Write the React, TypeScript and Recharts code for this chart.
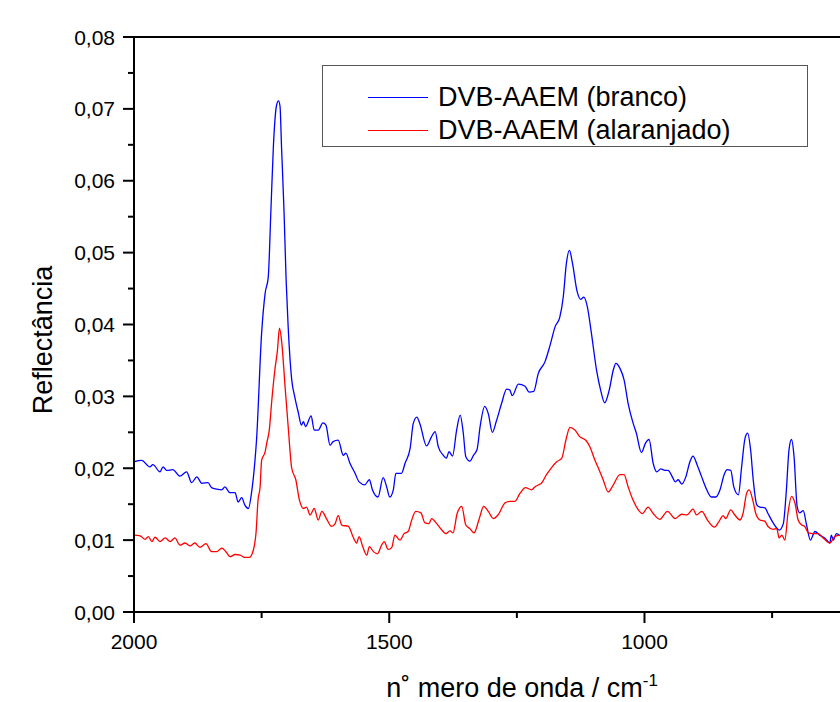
import { LineChart, Line, XAxis, YAxis, ReferenceLine, Legend, Label } from "recharts";

// wavenumbers (cm-1) and reflectance
const wavenumberBranco = [
  2000, 1985, 1969, 1963, 1949, 1943, 1936, 1924, 1910, 1897,
  1887, 1877, 1867, 1855, 1848, 1838, 1828, 1822, 1812, 1802,
  1796, 1789, 1783, 1776, 1769, 1763, 1760, 1750, 1743, 1737,
  1732, 1727, 1721, 1717, 1714, 1711, 1706, 1702, 1698, 1691,
  1685, 1678, 1672, 1668, 1664, 1653, 1647, 1639, 1630, 1624,
  1616, 1610, 1600, 1590, 1585, 1577, 1567, 1559, 1548, 1539,
  1533, 1522, 1512, 1505, 1499, 1492, 1487, 1476, 1469, 1459,
  1453, 1446, 1440, 1427, 1417, 1410, 1404, 1394, 1388, 1383,
  1376, 1368, 1361, 1355, 1350, 1342, 1335, 1328, 1322, 1313,
  1306, 1298, 1290, 1280, 1270, 1264, 1259, 1247, 1234, 1226,
  1217, 1208, 1195, 1185, 1175, 1166, 1159, 1153, 1147, 1141,
  1132, 1125, 1119, 1112, 1104, 1094, 1086, 1078, 1069, 1061,
  1056, 1048, 1040, 1032, 1022, 1016, 1006, 998, 991, 983,
  976, 968, 960, 954, 944, 940, 934, 927, 919, 911,
  905, 897, 888, 878, 869, 860, 852, 844, 838, 831,
  825, 816, 810, 803, 798, 792, 787, 780, 774, 764,
  758, 748, 736, 728, 722, 717, 712, 707, 701, 696,
  689, 683, 675, 666, 657, 647, 637, 634, 630, 624,
  617,
];
const reflectanceBranco = [
  0.0209, 0.0211, 0.0202, 0.0205, 0.0195, 0.0202, 0.0197, 0.0198, 0.0189, 0.0195,
  0.018, 0.0188, 0.0179, 0.018, 0.0173, 0.0171, 0.017, 0.0174, 0.0166, 0.0166,
  0.0153, 0.0159, 0.0149, 0.0144, 0.017, 0.0211, 0.0239, 0.0388, 0.0444, 0.0466,
  0.0555, 0.0647, 0.0704, 0.0711, 0.0704, 0.0647, 0.0555, 0.0462, 0.0397, 0.0323,
  0.0299, 0.0277, 0.026, 0.0265, 0.0258, 0.0273, 0.0253, 0.0253, 0.0263, 0.026,
  0.0232, 0.0237, 0.0239, 0.0218, 0.0221, 0.0207, 0.0193, 0.0181, 0.0177, 0.0184,
  0.017, 0.016, 0.0187, 0.0174, 0.016, 0.017, 0.0193, 0.0193, 0.0207, 0.0228,
  0.0262, 0.0271, 0.0262, 0.0231, 0.0244, 0.0251, 0.023, 0.0218, 0.0214, 0.0223,
  0.0217, 0.0253, 0.0274, 0.0249, 0.0216, 0.021, 0.0218, 0.0226, 0.0258, 0.0286,
  0.0276, 0.025, 0.0266, 0.029, 0.031, 0.0309, 0.0301, 0.0317, 0.0314, 0.0306,
  0.0307, 0.0332, 0.0348, 0.0371, 0.0397, 0.041, 0.0439, 0.0485, 0.0503, 0.0485,
  0.0446, 0.0435, 0.0438, 0.0425, 0.0388, 0.0337, 0.0309, 0.0291, 0.0309, 0.0337,
  0.0346, 0.0339, 0.0323, 0.029, 0.0262, 0.0249, 0.0222, 0.0235, 0.024, 0.0207,
  0.0195, 0.0199, 0.0197, 0.0197, 0.0186, 0.0181, 0.0184, 0.0178, 0.0188, 0.0209,
  0.0217, 0.0205, 0.0188, 0.017, 0.016, 0.016, 0.017, 0.0191, 0.0198, 0.0197,
  0.0174, 0.0163, 0.02, 0.0242, 0.0249, 0.0225, 0.0184, 0.0149, 0.0146, 0.0145,
  0.0137, 0.0124, 0.0114, 0.0123, 0.017, 0.0225, 0.024, 0.0216, 0.0147, 0.0138,
  0.0141, 0.0123, 0.01, 0.0112, 0.0107, 0.0103, 0.0096, 0.0107, 0.01, 0.0109,
  0.0106,
];

const wavenumberAlaranjado = [
  2000, 1988, 1978, 1972, 1965, 1959, 1949, 1939, 1929, 1920,
  1910, 1900, 1890, 1881, 1871, 1859, 1848, 1838, 1828, 1818,
  1812, 1802, 1792, 1783, 1774, 1768, 1761, 1757, 1753, 1750,
  1743, 1740, 1735, 1730, 1724, 1719, 1715, 1711, 1704, 1698,
  1691, 1683, 1676, 1668, 1662, 1655, 1647, 1639, 1632, 1623,
  1613, 1606, 1600, 1593, 1580, 1570, 1564, 1559, 1552, 1544,
  1539, 1531, 1523, 1515, 1510, 1502, 1495, 1489, 1479, 1471,
  1463, 1456, 1448, 1438, 1430, 1422, 1417, 1407, 1397, 1389,
  1381, 1375, 1367, 1358, 1350, 1342, 1334, 1324, 1315, 1306,
  1296, 1287, 1273, 1264, 1254, 1244, 1233, 1221, 1215, 1207,
  1202, 1192, 1182, 1172, 1162, 1154, 1146, 1136, 1127, 1115,
  1107, 1097, 1089, 1081, 1071, 1061, 1048, 1040, 1032, 1022,
  1012, 1004, 993, 983, 970, 955, 940, 927, 917, 905,
  898, 888, 875, 863, 854, 846, 841, 831, 823, 813,
  807, 800, 795, 788, 782, 774, 764, 758, 748, 741,
  736, 731, 725, 719, 712, 705, 699, 692, 686, 679,
  670, 660, 650, 637, 627, 617,
];
const reflectanceAlaranjado = [
  0.0107, 0.0106, 0.0101, 0.0105, 0.0098, 0.0104, 0.0098, 0.0103, 0.0098, 0.0103,
  0.0093, 0.0096, 0.0092, 0.0096, 0.009, 0.0095, 0.0084, 0.0084, 0.0089, 0.0082,
  0.0077, 0.008, 0.0079, 0.0076, 0.0076, 0.0082, 0.011, 0.0156, 0.0174, 0.0211,
  0.0223, 0.0235, 0.0253, 0.0295, 0.0337, 0.0364, 0.0395, 0.0378, 0.0313, 0.0258,
  0.02, 0.0184, 0.0156, 0.0144, 0.0146, 0.0135, 0.0144, 0.0128, 0.014, 0.013,
  0.0119, 0.0123, 0.0134, 0.0121, 0.0119, 0.0103, 0.0096, 0.0105, 0.0091, 0.0079,
  0.0091, 0.0084, 0.0081, 0.0093, 0.0098, 0.0087, 0.009, 0.0107, 0.01, 0.0109,
  0.0112, 0.0128, 0.014, 0.0138, 0.0124, 0.0123, 0.013, 0.0123, 0.0114, 0.0109,
  0.0113, 0.011, 0.0137, 0.0147, 0.0121, 0.0116, 0.011, 0.0129, 0.0147, 0.014,
  0.013, 0.0135, 0.0152, 0.0154, 0.0154, 0.0165, 0.0173, 0.017, 0.0174, 0.0177,
  0.0179, 0.0191, 0.0201, 0.0209, 0.0214, 0.0239, 0.0257, 0.0253, 0.0244, 0.0239,
  0.023, 0.0211, 0.0198, 0.0184, 0.0167, 0.0177, 0.0191, 0.0191, 0.0174, 0.0155,
  0.0142, 0.0137, 0.0146, 0.0137, 0.0129, 0.014, 0.013, 0.0136, 0.0135, 0.0143,
  0.0135, 0.014, 0.0126, 0.0118, 0.0126, 0.0134, 0.013, 0.0142, 0.0135, 0.0128,
  0.0137, 0.0165, 0.017, 0.0156, 0.0137, 0.0128, 0.0126, 0.0119, 0.0115, 0.0116,
  0.0103, 0.0107, 0.01, 0.0137, 0.0161, 0.0151, 0.0128, 0.0121, 0.0119, 0.011,
  0.0109, 0.0109, 0.0103, 0.0096, 0.0105, 0.0107,
];

const seriesNames = ["DVB-AAEM (branco)", "DVB-AAEM (alaranjado)"];
const seriesColors = ["#0000ff", "#ff0000"];

const xTicks = [2000, 1750, 1500, 1250, 1000, 750];
const xLabelled = [2000, 1500, 1000];
const yTicks = [
  0, 0.005, 0.01, 0.015, 0.02, 0.025, 0.03, 0.035, 0.04,
  0.045, 0.05, 0.055, 0.06, 0.065, 0.07, 0.075, 0.08,
];

const brancoData = wavenumberBranco.map((wn, i) => ({ wn, r: reflectanceBranco[i] }));
const alaranjadoData = wavenumberAlaranjado.map((wn, i) => ({ wn, r: reflectanceAlaranjado[i] }));

const FONT = "'Liberation Sans', Arial, sans-serif";

const XTick = ({ x, y, payload }: any) => {
  const major = xLabelled.includes(payload.value);
  return (
    <g>
      <line x1={x} x2={x} y1={y} y2={y + (major ? 11 : 6)} stroke="#000" strokeWidth={2} />
      {major && (
        <text x={x} y={y + 37} textAnchor="middle" fontSize={21} fontFamily={FONT} fill="#000">
          {payload.value}
        </text>
      )}
    </g>
  );
};

const YTick = ({ x, y, payload }: any) => {
  const v = payload.value * 100;
  const major = Math.abs(v - Math.round(v)) < 1e-6;
  return (
    <g>
      <line x1={x - (major ? 11 : 6)} x2={x} y1={y} y2={y} stroke="#000" strokeWidth={2} />
      {major && (
        <text x={x - 19} y={y} dy="0.36em" textAnchor="end" fontSize={21} fontFamily={FONT} fill="#000">
          {payload.value.toFixed(2).replace(".", ",")}
        </text>
      )}
    </g>
  );
};

// legend drawn in the same order as the series
const LegendBox = () => (
  <div
    style={{
      position: "relative",
      width: 486,
      height: 82,
      boxSizing: "border-box",
      border: "1.5px solid #555",
      background: "#fff",
      fontFamily: FONT,
      fontSize: 27,
    }}
  >
    {seriesNames.map((name, i) => (
      <div
        key={name}
        style={{ position: "absolute", left: 0, top: 15 + i * 33, height: 33, lineHeight: "33px", whiteSpace: "nowrap" }}
      >
        <span
          style={{
            position: "absolute",
            left: 45,
            top: 16,
            width: 60,
            height: 0,
            borderTop: `1.3px solid ${seriesColors[i]}`,
          }}
        />
        <span style={{ position: "absolute", left: 115, top: 0, color: "#000" }}>{name}</span>
      </div>
    ))}
  </div>
);

export default function App() {
  return (
    <div style={{ position: "fixed", left: 0, top: 0, width: 840, height: 702, overflow: "hidden", background: "#fff" }}>
      <LineChart width={840} height={702} margin={{ top: 37, right: 0, bottom: 0, left: 0 }}>
        <XAxis
          dataKey="wn"
          type="number"
          domain={[617, 2000]}
          reversed
          allowDataOverflow
          ticks={xTicks}
          interval={0}
          height={90}
          tickSize={0}
          tickMargin={0}
          tickLine={false}
          tick={<XTick />}
          axisLine={{ stroke: "#000", strokeWidth: 2 }}
        >
          <Label
            content={() => (
              <text x={522} y={697} textAnchor="middle" fontSize={27} fontFamily={FONT} fill="#000">
                n˚ mero de onda / cm
                <tspan fontSize={17} dy={-11}>-1</tspan>
              </text>
            )}
          />
        </XAxis>
        <YAxis
          type="number"
          domain={[0, 0.08]}
          ticks={yTicks}
          interval={0}
          width={134}
          tickSize={0}
          tickMargin={0}
          tickLine={false}
          tick={<YTick />}
          axisLine={{ stroke: "#000", strokeWidth: 2 }}
        >
          <Label
            content={() => (
              <text
                x={52}
                y={340}
                transform="rotate(-90 52 340)"
                textAnchor="middle"
                fontSize={27}
                fontFamily={FONT}
                fill="#000"
              >
                Reflectância
              </text>
            )}
          />
        </YAxis>
        <ReferenceLine y={0.08} stroke="#000" strokeWidth={2} />
        <Legend
          layout="vertical"
          align="center"
          verticalAlign="middle"
          wrapperStyle={{ left: 322, top: 65, width: 486, height: 82 }}
          content={<LegendBox />}
        />
        <Line
          data={brancoData}
          dataKey="r"
          name={seriesNames[0]}
          type="monotone"
          stroke={seriesColors[0]}
          strokeWidth={1.3}
          dot={false}
          isAnimationActive={false}
        />
        <Line
          data={alaranjadoData}
          dataKey="r"
          name={seriesNames[1]}
          type="monotone"
          stroke={seriesColors[1]}
          strokeWidth={1.3}
          dot={false}
          isAnimationActive={false}
        />
      </LineChart>
    </div>
  );
}
